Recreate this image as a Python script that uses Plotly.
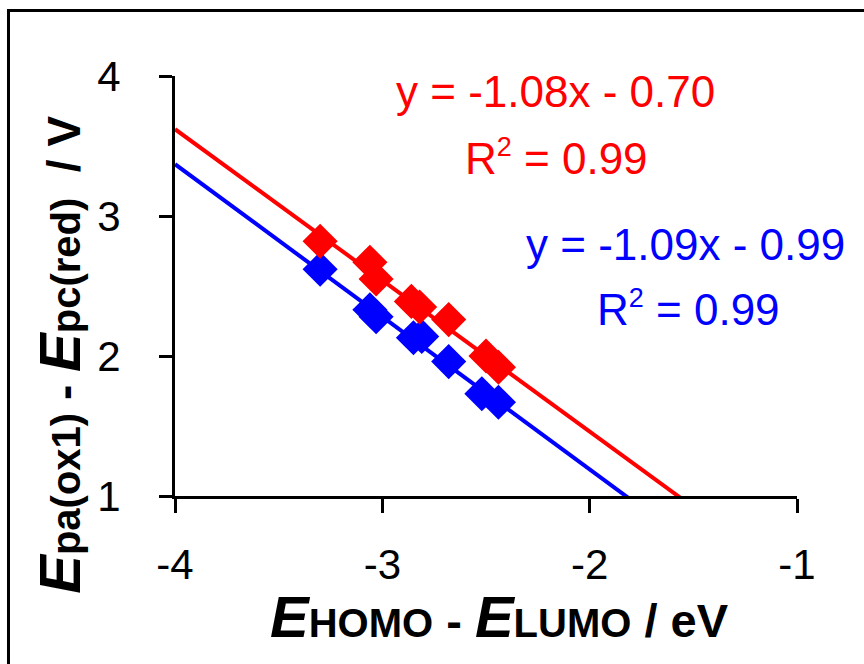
import numpy as np
import plotly.graph_objects as go

# ---- data ----
red_x = [-3.30, -3.06, -3.03, -2.86, -2.82, -2.68, -2.50, -2.44]
red_y = [2.82, 2.67, 2.55, 2.39, 2.35, 2.26, 2.00, 1.92]
blue_x = [-3.30, -3.06, -3.03, -2.85, -2.81, -2.68, -2.52, -2.44]
blue_y = [2.62, 2.33, 2.28, 2.13, 2.14, 1.96, 1.73, 1.67]

red_fit = [-1.08, -0.70]   # slope, intercept
blue_fit = [-1.09, -0.99]
r2_red = 0.99
r2_blue = 0.99

x_ticks = [-4, -3, -2, -1]
x_ticktext = ["-4", "-3", "-2", "-1"]
y_ticks = [1, 2, 3, 4]
y_ticktext = ["1", "2", "3", "4"]
x_range = [-4, -1]
y_range = [1, 4]

RED = "#FF0000"
BLUE = "#0000FF"
FONT = "Arial, Liberation Sans, sans-serif"

fit_x = np.array(x_range, dtype=float)

fig = go.Figure()
for fit, col in [(red_fit, RED), (blue_fit, BLUE)]:
    fig.add_trace(go.Scatter(x=fit_x, y=fit[0] * fit_x + fit[1], mode="lines",
                             line=dict(color=col, width=4), hoverinfo="skip"))
for xs, ys, col in [(blue_x, blue_y, BLUE), (red_x, red_y, RED)]:
    fig.add_trace(go.Scatter(x=xs, y=ys, mode="markers",
                             marker=dict(symbol="diamond", size=27, color=col,
                                         line=dict(width=0))))

axis_common = dict(showgrid=False, zeroline=False, showline=True, linewidth=3,
                   linecolor="black", ticks="outside", tickwidth=3,
                   tickcolor="black", tickfont=dict(family=FONT, size=42, color="black"))
fig.update_xaxes(range=x_range, tickvals=x_ticks, ticktext=x_ticktext, ticklen=14,
                 ticklabelstandoff=16, **axis_common)
fig.update_yaxes(range=y_range, tickvals=y_ticks, ticktext=y_ticktext, ticklen=13,
                 ticklabelstandoff=30, **axis_common)

def eq_text(fit):
    return "y = %.2fx - %.2f" % (fit[0], abs(fit[1]))

def r2_text(r2):
    return "R<sup><span style='font-size:27px'>2</span></sup> = %.2f" % r2

ann_font = 44
annotations = [
    dict(x=-2.167, y=3.89, text=eq_text(red_fit), font=dict(color=RED)),
    dict(x=-2.16, y=3.42, text=r2_text(r2_red), font=dict(color=RED)),
    dict(x=-1.54, y=2.80, text=eq_text(blue_fit), font=dict(color=BLUE)),
    dict(x=-1.525, y=2.34, text=r2_text(r2_blue), font=dict(color=BLUE)),
]
for a in annotations:
    a.update(xref="x", yref="y", showarrow=False, xanchor="center", yanchor="middle")
    a["font"].update(family=FONT, size=ann_font)
    fig.add_annotation(**a)

sub = "font-size:40px"
mid = "font-size:47px"
x_title = (f"<b><i>E</i></b><b><span style='{sub}'>HOMO</span></b>"
           f"<b><span style='{mid}'> - </span></b><b><i>E</i></b>"
           f"<b><span style='{sub}'>LUMO</span></b><b><span style='{mid}'> / eV</span></b>")
y_title = (f"<b><i>E</i></b><b><span style='font-size:40px'>pa(ox1)</span></b>"
           f"<b><span style='font-size:46px'> - </span></b><b><i>E</i></b>"
           f"<b><span style='font-size:40px'>pc(red)</span></b>"
           f"<b><span style='font-size:46px'>  / V</span></b>")
fig.add_annotation(xref="paper", yref="paper", x=0.521, y=-0.287, text=x_title,
                   showarrow=False, xanchor="center", yanchor="middle",
                   font=dict(family=FONT, size=58, color="black"))
fig.add_annotation(xref="paper", yref="paper", x=-0.185, y=0.336, text=y_title,
                   textangle=-90, showarrow=False, xanchor="center", yanchor="middle",
                   font=dict(family=FONT, size=58, color="black"))

fig.add_shape(type="rect", xref="paper", yref="paper", x0=-0.2677, x1=1.3,
              y0=-0.6, y1=1.156, line=dict(color="black", width=3), layer="below")

fig.update_layout(width=864, height=664, showlegend=False,
                  margin=dict(l=175, r=67, t=76, b=168, pad=0),
                  plot_bgcolor="white", paper_bgcolor="white",
                  font=dict(family=FONT, color="black"))

fig.write_html("out.html")
